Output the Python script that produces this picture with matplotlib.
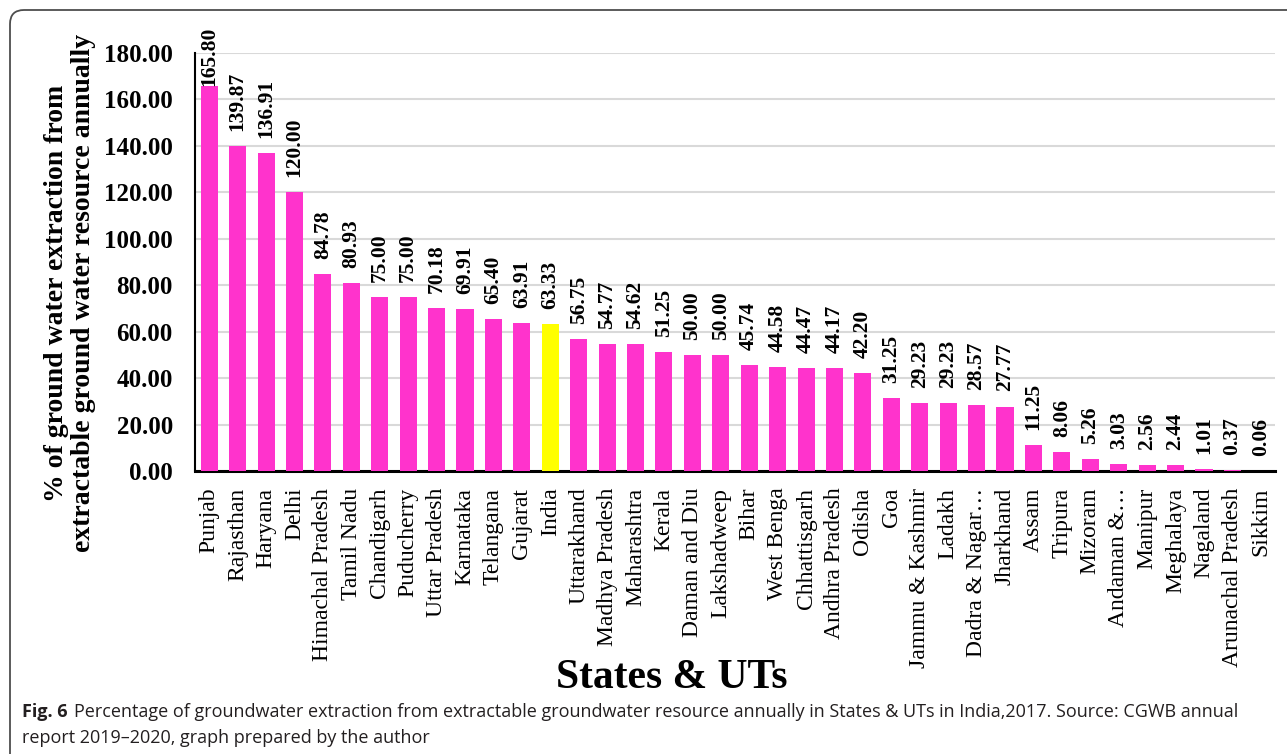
import numpy as np
import matplotlib
matplotlib.use("Agg")
import matplotlib.pyplot as plt
from matplotlib.patches import FancyBboxPatch
from matplotlib.transforms import IdentityTransform

# groundwater extraction (% of extractable resource), 2017
states = ["Punjab", "Rajasthan", "Haryana", "Delhi", "Himachal Pradesh", "Tamil Nadu",
          "Chandigarh", "Puducherry", "Uttar Pradesh", "Karnataka", "Telangana", "Gujarat",
          "India", "Uttarakhand", "Madhya Pradesh", "Maharashtra", "Kerala", "Daman and Diu",
          "Lakshadweep", "Bihar", "West Benga", "Chhattisgarh", "Andhra Pradesh", "Odisha",
          "Goa", "Jammu & Kashmir", "Ladakh", "Dadra & Nagar\u2026", "Jharkhand", "Assam",
          "Tripura", "Mizoram", "Andaman &\u2026", "Manipur", "Meghalaya", "Nagaland",
          "Arunachal Pradesh", "Sikkim"]
extraction = [165.80, 139.87, 136.91, 120.00, 84.78, 80.93, 75.00, 75.00, 70.18, 69.91,
              65.40, 63.91, 63.33, 56.75, 54.77, 54.62, 51.25, 50.00, 50.00, 45.74,
              44.58, 44.47, 44.17, 42.20, 31.25, 29.23, 29.23, 28.57, 27.77, 11.25,
              8.06, 5.26, 3.03, 2.56, 2.44, 1.01, 0.37, 0.06]
yticks = [0, 20, 40, 60, 80, 100, 120, 140, 160, 180]

serif = ["Liberation Serif", "DejaVu Serif"]
capfont = ["Liberation Sans Narrow", "Open Sans", "DejaVu Sans"]

fig = plt.figure(figsize=(12.87, 7.54), dpi=100)
ax = fig.add_axes([0.1515, 0.3753, 0.8392, 0.5544])

x = np.arange(len(states))
colors = ["#FFFF00" if s == "India" else "#FF33CC" for s in states]
ax.bar(x, extraction, width=0.6, color=colors, zorder=3)

# value labels above bars, pulled down if they would run off the top
for xi, v in zip(x, extraction):
    ypos = min(v + 6.5, 166.0)
    ax.text(xi, ypos, f"{v:.2f}", rotation=90, ha="center", va="bottom",
            fontsize=15.5, fontweight="bold", family=serif, clip_on=False, zorder=4)

ax.set_xlim(-0.5, len(states) - 0.5)
ax.set_ylim(0, 180)
ax.set_yticks(yticks)
ax.set_yticklabels([f"{t:.2f}" for t in yticks], fontsize=18, fontweight="bold", family=serif)
ax.set_xticks(x)
ax.set_xticklabels(states, rotation=90, ha="center", va="top", fontsize=17, family=serif)
ax.tick_params(axis="both", length=0)
ax.tick_params(axis="y", pad=16)
ax.tick_params(axis="x", pad=12)

ax.grid(axis="y", color="#D9D9D9", linewidth=1.5, zorder=0)
for sp in ["top", "right"]:
    ax.spines[sp].set_visible(False)
ax.spines["left"].set_linewidth(1.5)
ax.spines["bottom"].set_linewidth(2.2)

fig.text(70 / 1287, 1 - 293 / 754,
         "% of ground water extraction from\nextractable ground water resource annually",
         rotation=90, ha="center", va="center", multialignment="center",
         fontsize=20, fontweight="bold", family=serif, linespacing=1.12)
fig.text(672 / 1287, 1 - 678 / 754, "States & UTs", ha="center", va="center",
         fontsize=30, fontweight="bold", family=serif)

# caption
fig.text(22 / 1287, 1 - 712 / 754, "Fig. 6", ha="left", va="center",
         fontsize=13, fontweight="bold", family=capfont, color="#231F20")
fig.text(74 / 1287, 1 - 712 / 754,
         "Percentage of groundwater extraction from extractable groundwater resource annually "
         "in States & UTs in India,2017. Source: CGWB annual",
         ha="left", va="center", fontsize=13, family=capfont, color="#231F20")
fig.text(22 / 1287, 1 - 738 / 754, "report 2019\u20132020, graph prepared by the author",
         ha="left", va="center", fontsize=13, family=capfont, color="#231F20")

# rounded frame around the figure
frame = FancyBboxPatch((10, -30), 1320, 774, boxstyle="round,pad=0,rounding_size=14",
                       transform=IdentityTransform(), facecolor="none",
                       edgecolor="#4D4D4D", linewidth=1.3)
fig.patches.append(frame)

fig.savefig("out.png", dpi=100)
